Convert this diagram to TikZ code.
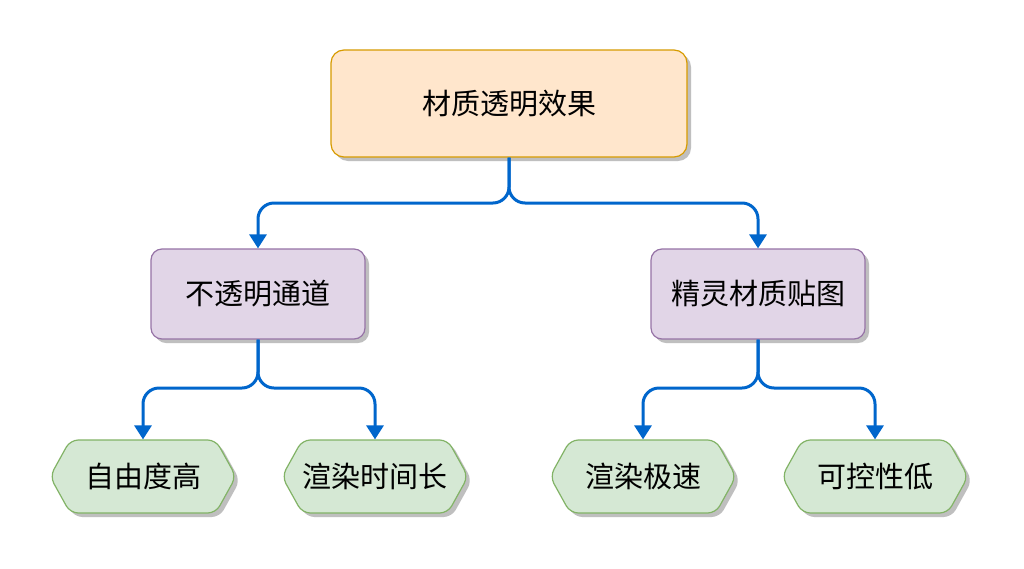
\documentclass[tikz,border=0pt]{standalone}
\usepackage{fontspec}
\newfontfamily\cjk{Noto Sans CJK SC}
\usetikzlibrary{arrows.meta,shapes.symbols,shadows}
\definecolor{topfill}{HTML}{FFE6CC}
\definecolor{topdraw}{HTML}{D79B00}
\definecolor{midfill}{HTML}{E1D5E7}
\definecolor{middraw}{HTML}{9673A6}
\definecolor{leaffill}{HTML}{D5E8D4}
\definecolor{leafdraw}{HTML}{82B366}
\definecolor{conn}{HTML}{0066CC}
\tikzset{
  shad/.style={drop shadow={shadow xshift=4pt,shadow yshift=-4pt,fill=black!25,opacity=1}},
  lbl/.style={font=\cjk\fontsize{29}{34}\selectfont, text=black},
  topbox/.style={lbl,shad,draw=topdraw,fill=topfill,line width=1.2pt,rounded corners=13pt,minimum width=356pt,minimum height=107pt,inner sep=0pt},
  midbox/.style={lbl,shad,draw=middraw,fill=midfill,line width=1.2pt,rounded corners=11pt,minimum width=214pt,minimum height=90pt,inner sep=0pt},
  leaf/.style={lbl,shad,draw=leafdraw,fill=leaffill,line width=1.2pt,shape=signal,signal to=west and east,signal pointer angle=122,rounded corners=8pt,minimum width=186pt,minimum height=73pt,inner sep=0pt},
  link/.style={draw=conn,line width=3pt,rounded corners=16pt,-{Triangle[width=17pt,length=14pt]}}
}
\begin{document}
\begin{tikzpicture}[x=1pt,y=-1pt]
\useasboundingbox[fill=white] (0,0) rectangle (1024,568);
\node[topbox] (top) at (509,103.5) {材质透明效果};
\node[midbox] (m1) at (258,294) {不透明通道};
\node[midbox] (m2) at (758,294) {精灵材质贴图};
\node[leaf] (l1) at (143,476.5) {自由度高};
\node[leaf] (l2) at (375,476.5) {渲染时间长};
\node[leaf] (l3) at (643,476.5) {渲染极速};
\node[leaf] (l4) at (875,476.5) {可控性低};
\coordinate (j0) at (509,203);
\coordinate (j1) at (258,388);
\coordinate (j2) at (758,388);
\draw[link] (top.south) -- (j0) -| (m1.north);
\draw[link] (top.south) -- (j0) -| (m2.north);
\draw[link] (m1.south) -- (j1) -| (l1.north);
\draw[link] (m1.south) -- (j1) -| (l2.north);
\draw[link] (m2.south) -- (j2) -| (l3.north);
\draw[link] (m2.south) -- (j2) -| (l4.north);
\end{tikzpicture}
\end{document}
